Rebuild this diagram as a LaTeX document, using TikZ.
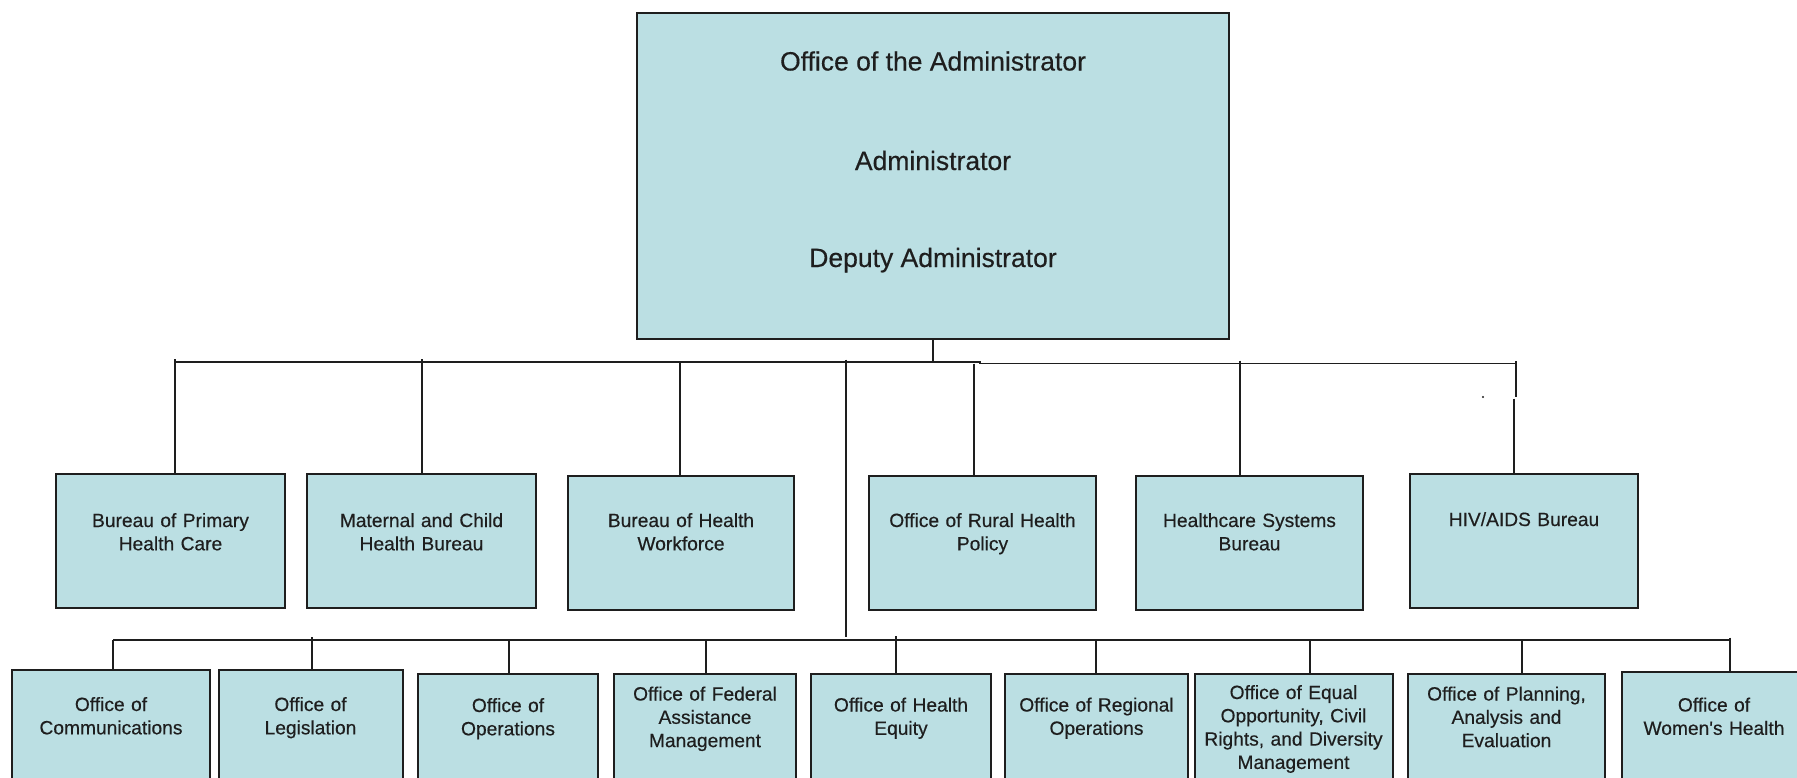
\documentclass[tikz,border=0pt]{standalone}
\usepackage{fontspec}
\setmainfont{Liberation Sans}
\newfontfamily\heavysans{Liberation Sans}[FakeBold=0.4]
\usetikzlibrary{calc}
\definecolor{boxfill}{HTML}{BBDFE3}
\definecolor{linecol}{HTML}{1E1E1E}
\begin{document}
\begin{tikzpicture}[x=1pt,y=-1pt,
  box/.style={draw=linecol, fill=boxfill, line width=1.8pt, inner sep=0pt, outer sep=0pt, anchor=north west},
  lbl/.style={align=center, inner sep=0pt, anchor=base, text=linecol, font=\heavysans\fontsize{19.2}{23.3}\selectfont},
  big/.style={inner sep=0pt, anchor=base, text=linecol, font=\heavysans\fontsize{26.5}{30}\selectfont},
  conn/.style={draw=linecol, line width=1.7pt}]
\useasboundingbox (0,0) rectangle (1797,777);
\clip (0,0) rectangle (1797,777);
\fill[white] (0,0) rectangle (1797,777);

% top box
\node[box, minimum width=592pt, minimum height=326pt] (top) at (637,13) {};
\node[big] (t1) at (933,70.5) {Office of the Administrator};
\node[big] (t2) at (933,170) {Administrator};
\node[big] (t3) at (933,267) {Deputy Administrator};

% row 1 boxes
\node[box, minimum width=229pt, minimum height=134pt] (b1) at (56,474) {};
\node[box, minimum width=229pt, minimum height=134pt] (b2) at (307,474) {};
\node[box, minimum width=226pt, minimum height=134pt] (b3) at (568,476) {};
\node[box, minimum width=227pt, minimum height=134pt] (b4) at (869,476) {};
\node[box, minimum width=227pt, minimum height=134pt] (b5) at (1136,476) {};
\node[box, minimum width=228pt, minimum height=134pt] (b6) at (1410,474) {};

\node[lbl, text width=220pt] (b1t) at (170.5,527) {Bureau of Primary\\Health Care};
\node[lbl, text width=220pt] (b2t) at (421.5,527) {Maternal and Child\\Health Bureau};
\node[lbl, text width=220pt] (b3t) at (681,527) {Bureau of Health\\Workforce};
\node[lbl, text width=220pt] (b4t) at (982.5,527) {Office of Rural Health\\Policy};
\node[lbl, text width=220pt] (b5t) at (1249.5,527) {Healthcare Systems\\Bureau};
\node[lbl, text width=220pt] (b6t) at (1524,526) {HIV/AIDS Bureau};

% row 2 boxes
\node[box, minimum width=198pt, minimum height=140pt] (c1) at (12,670) {};
\node[box, minimum width=184pt, minimum height=140pt] (c2) at (219,670) {};
\node[box, minimum width=180pt, minimum height=140pt] (c3) at (418,674) {};
\node[box, minimum width=182pt, minimum height=140pt] (c4) at (614,674) {};
\node[box, minimum width=180pt, minimum height=140pt] (c5) at (811,674) {};
\node[box, minimum width=183pt, minimum height=140pt] (c6) at (1005,674) {};
\node[box, minimum width=198pt, minimum height=140pt] (c7) at (1195,674) {};
\node[box, minimum width=197pt, minimum height=140pt] (c8) at (1408,674) {};
\node[box, minimum width=184pt, minimum height=140pt] (c9) at (1622,672) {};

\node[lbl, text width=195pt] (c1t) at (111,711) {Office of\\Communications};
\node[lbl, text width=180pt] (c2t) at (310.5,711) {Office of\\Legislation};
\node[lbl, text width=178pt] (c3t) at (508,712) {Office of\\Operations};
\node[lbl, text width=180pt] (c4t) at (705,700.5) {Office of Federal\\Assistance\\Management};
\node[lbl, text width=178pt] (c5t) at (901,711.5) {Office of Health\\Equity};
\node[lbl, text width=180pt] (c6t) at (1096.5,711.5) {Office of Regional\\Operations};
\node[lbl, text width=196pt] (c7t) at (1293.5,699) {Office of Equal\\Opportunity, Civil\\Rights, and Diversity\\Management};
\node[lbl, text width=195pt] (c8t) at (1506.5,700.5) {Office of Planning,\\Analysis and\\Evaluation};
\node[lbl, text width=182pt] (c9t) at (1714,711.5) {Office of\\Women's Health};

% connector coordinates
\coordinate (s1) at (933,362);
\coordinate (d1) at (175,362);
\coordinate (d2) at (422,362);
\coordinate (d3) at (680,362);
\coordinate (tr) at (846,362);
\coordinate (stp) at (980,362);
\coordinate (d4) at (974,363.5);
\coordinate (d5) at (1240,363.5);
\coordinate (d6a) at (1516,363.5);
\coordinate (d6b) at (1516,397);
\coordinate (d6c) at (1514,398.5);
\coordinate (e0) at (846,640);
\coordinate (e1) at (113,640);
\coordinate (e2) at (312,640);
\coordinate (e3) at (509,640);
\coordinate (e4) at (706,640);
\coordinate (e5) at (896,640);
\coordinate (e6) at (1096,640);
\coordinate (e7) at (1310,640);
\coordinate (e8) at (1522,640);
\coordinate (e9) at (1730,640);

% stem and bus 1
\draw[conn] (top.south) -- (s1);
\draw[conn] (d1) -- (stp) -- ++(0,1.5) -- (d6a) -- (d6b);
\draw[conn] (d6c) -- (d6c |- b6.north);
\draw[conn] ($(d6a)+(0,-2.5)$) -- (d6a);
\draw[conn] ($(d1)+(0,-3)$) -- (d1 |- b1.north);
\draw[conn] ($(d2)+(0,-3)$) -- (d2 |- b2.north);
\draw[conn] (d3) -- (d3 |- b3.north);
\draw[conn] (d4) -- (d4 |- b4.north);
\draw[conn] ($(d5)+(0,-3)$) -- (d5 |- b5.north);
\fill[linecol] (1483,397) circle (1.2pt);

% trunk and bus 2
\draw[conn] ($(tr)+(0,-2.5)$) -- ($(e0)+(0,-3)$);
\draw[conn] (e1) -- (e9);
\draw[conn] (e1) -- (e1 |- c1.north);
\draw[conn] ($(e2)+(0,-3)$) -- (e2 |- c2.north);
\draw[conn] (e3) -- (e3 |- c3.north);
\draw[conn] (e4) -- (e4 |- c4.north);
\draw[conn] ($(e5)+(0,-4)$) -- (e5 |- c5.north);
\draw[conn] (e6) -- (e6 |- c6.north);
\draw[conn] (e7) -- (e7 |- c7.north);
\draw[conn] (e8) -- (e8 |- c8.north);
\draw[conn] ($(e9)+(0,-2.5)$) -- (e9 |- c9.north);
\end{tikzpicture}
\end{document}
